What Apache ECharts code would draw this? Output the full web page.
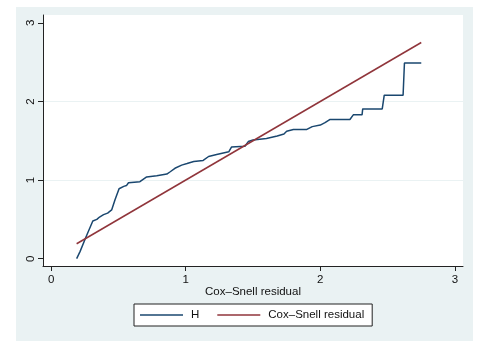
<!DOCTYPE html>
<html><head><meta charset="utf-8">
<script src="https://cdn.jsdelivr.net/npm/echarts@6/dist/echarts.min.js"></script>
<style>html,body{margin:0;padding:0;background:#fff}#c{width:481px;height:341px}</style>
</head><body><div id="c"></div>
<script>
// Nelson–Aalen cumulative hazard H vs Cox–Snell residual
const hX = [0.19,0.215,0.26,0.31,0.34,0.36,0.39,0.42,0.45,0.475,0.505,0.54,0.56,0.575,0.66,0.71,0.785,0.86,0.885,0.92,0.97,1.01,1.06,1.13,1.17,1.23,1.32,1.34,1.44,1.465,1.50,1.60,1.68,1.73,1.75,1.80,1.90,1.94,2.0,2.035,2.07,2.22,2.245,2.31,2.315,2.46,2.475,2.615,2.625,2.75];
const hY = [0,0.09,0.28,0.48,0.50,0.53,0.56,0.58,0.62,0.75,0.89,0.92,0.93,0.966,0.98,1.04,1.055,1.076,1.106,1.15,1.19,1.21,1.237,1.25,1.30,1.326,1.36,1.42,1.43,1.49,1.51,1.53,1.56,1.585,1.62,1.644,1.644,1.68,1.70,1.73,1.77,1.77,1.83,1.83,1.905,1.905,2.08,2.08,2.49,2.49];
const csX = [0.19, 2.75];
const csY = [0.19, 2.75];
const xTicks = [0, 1, 2, 3];
const yTicks = [0, 1, 2, 3];
const seriesNames = ['H', 'Cox\u2013Snell residual'];
const xTitle = 'Cox\u2013Snell residual';

const FONT = "'Liberation Sans', Arial, sans-serif";
const FS = 11.5;
const chart = echarts.init(document.getElementById('c'), null, {renderer: 'canvas'});
const zip = (a, b) => a.map((v, i) => [v, b[i]]);
chart.setOption({
  animation: false,
  backgroundColor: '#ffffff',
  textStyle: {fontFamily: FONT},
  graphic: [{
    type: 'rect', z: -10, silent: true,
    shape: {x: 16, y: 7, width: 457, height: 334},
    style: {fill: '#eaf2f3'}
  }],
  grid: {left: 43, right: 18, top: 15, bottom: 75, show: true,
         backgroundColor: '#ffffff', borderWidth: 0},
  xAxis: {
    type: 'value', min: -0.06, max: 3.06, splitNumber: 3,
    name: xTitle, nameLocation: 'middle', nameGap: 26, nameMoveOverlap: false,
    nameTextStyle: {fontSize: FS, color: '#111', fontFamily: FONT, verticalAlign: 'middle'},
    axisLine: {show: true, onZero: false, lineStyle: {color: '#222', width: 1}},
    axisTick: {show: true, length: 5, customValues: xTicks, lineStyle: {color: '#222'}},
    axisLabel: {customValues: xTicks, margin: 8, fontSize: FS, color: '#111', fontFamily: FONT},
    splitLine: {show: false}
  },
  yAxis: {
    type: 'value', min: -0.093, max: 3.1, splitNumber: 3,
    axisLine: {show: true, onZero: false, lineStyle: {color: '#222', width: 1}},
    axisTick: {show: true, length: 5, customValues: yTicks, lineStyle: {color: '#222'}},
    axisLabel: {customValues: yTicks, rotate: 90, margin: 6, fontSize: FS, color: '#111', fontFamily: FONT},
    splitLine: {show: true, showMinLine: false, showMaxLine: false, lineStyle: {color: '#eaf2f3', width: 1}}
  },
  legend: {
    left: 134, top: 304, padding: [5, 8, 5, 6],
    itemWidth: 43, itemHeight: 1.5, itemGap: 18,
    borderColor: '#222', borderWidth: 1, backgroundColor: '#fff',
    textStyle: {fontSize: FS, color: '#111', fontFamily: FONT, padding: [0, 0, 0, 3]},
    data: seriesNames.map(n => ({name: n, icon: 'rect'}))
  },
  series: [
    {name: seriesNames[0], type: 'line', symbol: 'none', data: zip(hX, hY),
     lineStyle: {color: '#1a476f', width: 1.5}, itemStyle: {color: '#1a476f'}},
    {name: seriesNames[1], type: 'line', symbol: 'none', data: zip(csX, csY),
     lineStyle: {color: '#90353b', width: 1.5}, itemStyle: {color: '#90353b'}}
  ]
});
</script></body></html>
